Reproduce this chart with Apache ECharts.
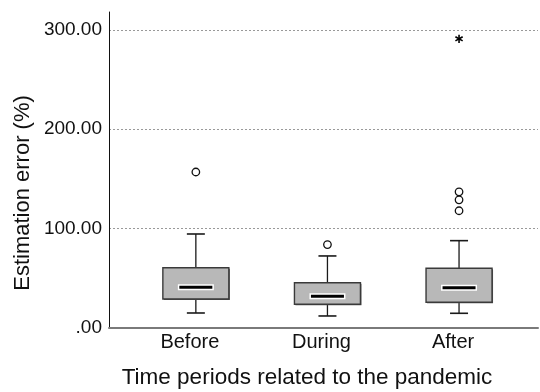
<!DOCTYPE html>
<html>
<head>
<meta charset="utf-8">
<script src="https://cdn.jsdelivr.net/npm/echarts@6/dist/echarts.min.js"></script>
<style>html,body{margin:0;padding:0;background:#fff;}#c{width:540px;height:392px;}</style>
</head>
<body>
<div id="c"></div>
<script>
const categories = ['Before', 'During', 'After'];
const whiskerLow = [15.1, 12.1, 14.8];
const q1 = [29.2, 23.9, 25.9];
const median = [41.0, 31.9, 40.6];
const q3 = [60.7, 45.6, 60.1];
const whiskerHigh = [94.6, 72.5, 87.9];
const outliersBefore = [157];
const outliersDuring = [84];
const outliersAfter = [118, 129, 137];
const extremesAfter = [291];
const yTicks = [0, 100, 200, 300];

const boxData = categories.map((c, i) => [i + 1, whiskerLow[i], q1[i], median[i], q3[i], whiskerHigh[i]]);
const outlierData = [];
[outliersBefore, outliersDuring, outliersAfter].forEach((arr, i) => arr.forEach(v => outlierData.push([i + 1, v])));
const extremeData = extremesAfter.map(v => [3, v]);

const FONT = 'Liberation Sans, Arial, sans-serif';
const chart = echarts.init(document.getElementById('c'), null, {renderer: 'canvas'});

function renderBox(params, api) {
  const x = api.value(0);
  const pLow = api.coord([x, api.value(1)]);
  const pQ1 = api.coord([x, api.value(2)]);
  const pMed = api.coord([x, api.value(3)]);
  const pQ3 = api.coord([x, api.value(4)]);
  const pHigh = api.coord([x, api.value(5)]);
  const cx = pQ1[0];
  const hb = 33, hc = 9, hm = 16.5;
  const ls = {stroke: '#1a1a1a', lineWidth: 1.3};
  return {type: 'group', children: [
    {type: 'line', shape: {x1: cx, y1: pLow[1], x2: cx, y2: pQ1[1]}, style: ls},
    {type: 'line', shape: {x1: cx, y1: pQ3[1], x2: cx, y2: pHigh[1]}, style: ls},
    {type: 'line', shape: {x1: cx - hc, y1: pLow[1], x2: cx + hc, y2: pLow[1]}, style: {stroke: '#1a1a1a', lineWidth: 1.6}},
    {type: 'line', shape: {x1: cx - hc, y1: pHigh[1], x2: cx + hc, y2: pHigh[1]}, style: {stroke: '#1a1a1a', lineWidth: 1.6}},
    {type: 'rect', shape: {x: cx - hb + 1, y: pQ3[1] + 1, width: 2 * hb, height: pQ1[1] - pQ3[1]}, style: {fill: '#555'}},
    {type: 'rect', shape: {x: cx - hb, y: pQ3[1], width: 2 * hb, height: pQ1[1] - pQ3[1]}, style: {fill: '#b8b8b8', stroke: '#3a3a3a', lineWidth: 1.4}},
    {type: 'rect', shape: {x: cx - hm - 1.5, y: pMed[1] - 3, width: 2 * hm + 3, height: 6}, style: {fill: '#fff'}},
    {type: 'line', shape: {x1: cx - hm, y1: pMed[1], x2: cx + hm, y2: pMed[1]}, style: {stroke: '#000', lineWidth: 3}}
  ]};
}

function renderStar(params, api) {
  const p = api.coord([api.value(0), api.value(1)]);
  const r = 4.2;
  const children = [0, 60, 120].map(a => {
    const t = (a + 90) * Math.PI / 180;
    return {type: 'line', shape: {x1: p[0] - r * Math.cos(t), y1: p[1] - r * Math.sin(t), x2: p[0] + r * Math.cos(t), y2: p[1] + r * Math.sin(t)}, style: {stroke: '#000', lineWidth: 1.6}};
  });
  return {type: 'group', children};
}

chart.setOption({
  animation: false,
  backgroundColor: '#fff',
  grid: {left: 109, right: 2, top: 12, bottom: 64, containLabel: false},
  xAxis: {
    type: 'value', min: 0.34, max: 3.6,
    splitLine: {show: false},
    axisTick: {show: false},
    axisLine: {show: true, lineStyle: {color: '#7a7a7a', width: 2}},
    axisLabel: {
      customValues: [1, 2, 3],
      formatter: v => categories[Math.round(v) - 1] || '',
      fontFamily: FONT, fontSize: 20, color: '#111', margin: 4,
      padding: [0, 12, 0, 0]
    }
  },
  yAxis: {
    type: 'value', min: 0, max: 318,
    axisLine: {show: true, onZero: false, lineStyle: {color: '#111', width: 1}},
    axisTick: {show: false},
    splitLine: {show: true, showMaxLine: false, lineStyle: {color: '#999', type: [2, 2], width: 1}},
    axisLabel: {
      customValues: yTicks,
      formatter: v => v === 0 ? '.00' : v.toFixed(2),
      fontFamily: FONT, fontSize: 19, color: '#111', margin: 7
    },
    interval: 100
  },
  graphic: [{
    type: 'text', x: 23, y: 193, rotation: Math.PI / 2,
    style: {text: 'Estimation error (%)', fontFamily: FONT, fontSize: 22, fill: '#111', align: 'center', verticalAlign: 'middle'}
  }, {
    type: 'text', x: 307, y: 378,
    style: {text: 'Time periods related to the pandemic', fontFamily: FONT, fontSize: 22.5, fill: '#111', align: 'center', verticalAlign: 'middle'}
  }],
  series: [
    {type: 'custom', data: boxData, renderItem: renderBox, encode: {x: 0, y: [1, 2, 3, 4, 5]}, z: 3},
    {type: 'scatter', data: outlierData, symbol: 'circle', symbolSize: 7.5,
      itemStyle: {color: '#fff', borderColor: '#111', borderWidth: 1.3, opacity: 1}, z: 4},
    {type: 'custom', data: extremeData, renderItem: renderStar, encode: {x: 0, y: 1}, z: 4}
  ]
});
</script>
</body>
</html>
